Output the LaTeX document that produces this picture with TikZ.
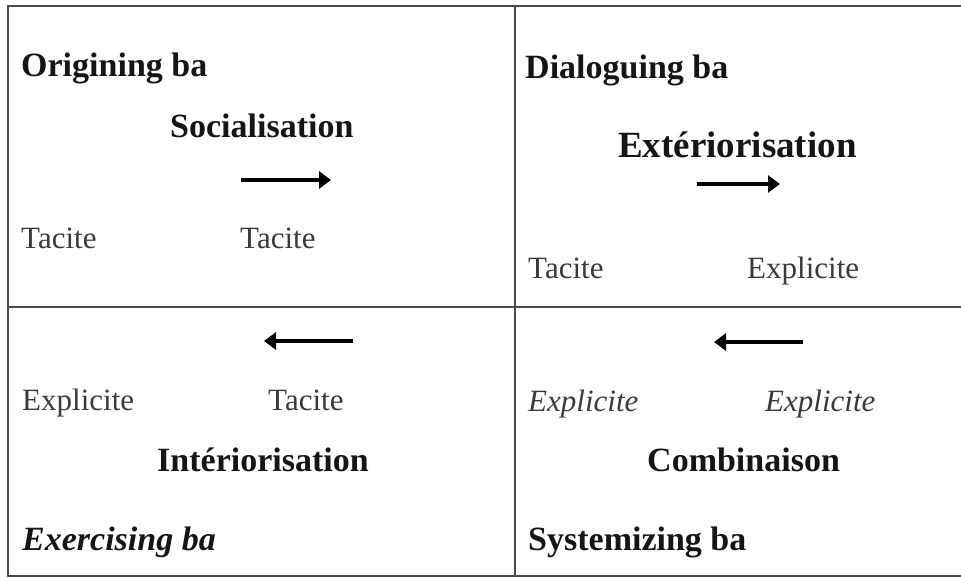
\documentclass[tikz,border=0pt]{standalone}
\usepackage{fontspec}
\setmainfont{Liberation Serif}
\usetikzlibrary{arrows.meta}
\definecolor{txtgray}{HTML}{3A3A3A}
\definecolor{boldtxt}{HTML}{151515}
\definecolor{linegray}{HTML}{4A4A4A}
\tikzset{
  gridline/.style={draw=linegray, line width=1.5pt},
  titlelbl/.style={anchor=base west, inner sep=0pt, text=boldtxt, font=\fontsize{34}{40}\selectfont\bfseries},
  modelbl/.style={anchor=base west, inner sep=0pt, text=boldtxt, font=\fontsize{34}{40}\selectfont\bfseries},
  kindlbl/.style={anchor=base west, inner sep=0pt, text=txtgray, font=\fontsize{31}{36}\selectfont},
  flow/.style={draw=black, line width=4pt, -{Triangle[length=12pt,width=17pt]}}
}
\begin{document}
\begin{tikzpicture}[x=1pt,y=-1pt]
\useasboundingbox (0,0) rectangle (961,578);
% grid
\coordinate (tl) at (8,6);
\coordinate (tr) at (961,6);
\coordinate (ml) at (8,307);
\coordinate (mr) at (961,307);
\coordinate (bl) at (8,576);
\coordinate (br) at (961,576);
\coordinate (vt) at (515,6);
\coordinate (vb) at (515,576);
\draw[gridline] (tr) -- (tl) -- (bl) -- (br);
\draw[gridline] (ml) -- (mr);
\draw[gridline] (vt) -- (vb);
% top-left
\node[titlelbl] (orig) at (21,77) {Origining ba};
\node[modelbl] (soc) at (170,137) {Socialisation};
\node[kindlbl] (t1a) at (21,248) {Tacite};
\node[kindlbl] (t1b) at (240,248) {Tacite};
\coordinate (a1s) at (241,180);
\coordinate (a1e) at (331,180);
\draw[flow] (a1s) -- (a1e);
% top-right
\node[titlelbl] (dial) at (525,78) {Dialoguing ba};
\node[modelbl, font=\fontsize{37}{44}\selectfont\bfseries] (ext) at (618,157) {Extériorisation};
\node[kindlbl] (t2a) at (528,278) {Tacite};
\node[kindlbl] (t2b) at (747,278) {Explicite};
\coordinate (a2s) at (697,184);
\coordinate (a2e) at (780,184);
\draw[flow] (a2s) -- (a2e);
% bottom-left
\coordinate (a3s) at (353,341);
\coordinate (a3e) at (264,341);
\draw[flow] (a3s) -- (a3e);
\node[kindlbl] (t3a) at (22,410) {Explicite};
\node[kindlbl] (t3b) at (268,410) {Tacite};
\node[modelbl] (inte) at (157,471) {Intériorisation};
\node[titlelbl, font=\fontsize{34}{40}\selectfont\bfseries\itshape] (exer) at (22,550) {Exercising ba};
% bottom-right
\coordinate (a4s) at (803,342);
\coordinate (a4e) at (714,342);
\draw[flow] (a4s) -- (a4e);
\node[kindlbl, font=\fontsize{31}{36}\selectfont\itshape] (t4a) at (528,411) {Explicite};
\node[kindlbl, font=\fontsize{31}{36}\selectfont\itshape] (t4b) at (765,411) {Explicite};
\node[modelbl] (comb) at (647,471) {Combinaison};
\node[titlelbl] (syst) at (528,550) {Systemizing ba};
\end{tikzpicture}
\end{document}
